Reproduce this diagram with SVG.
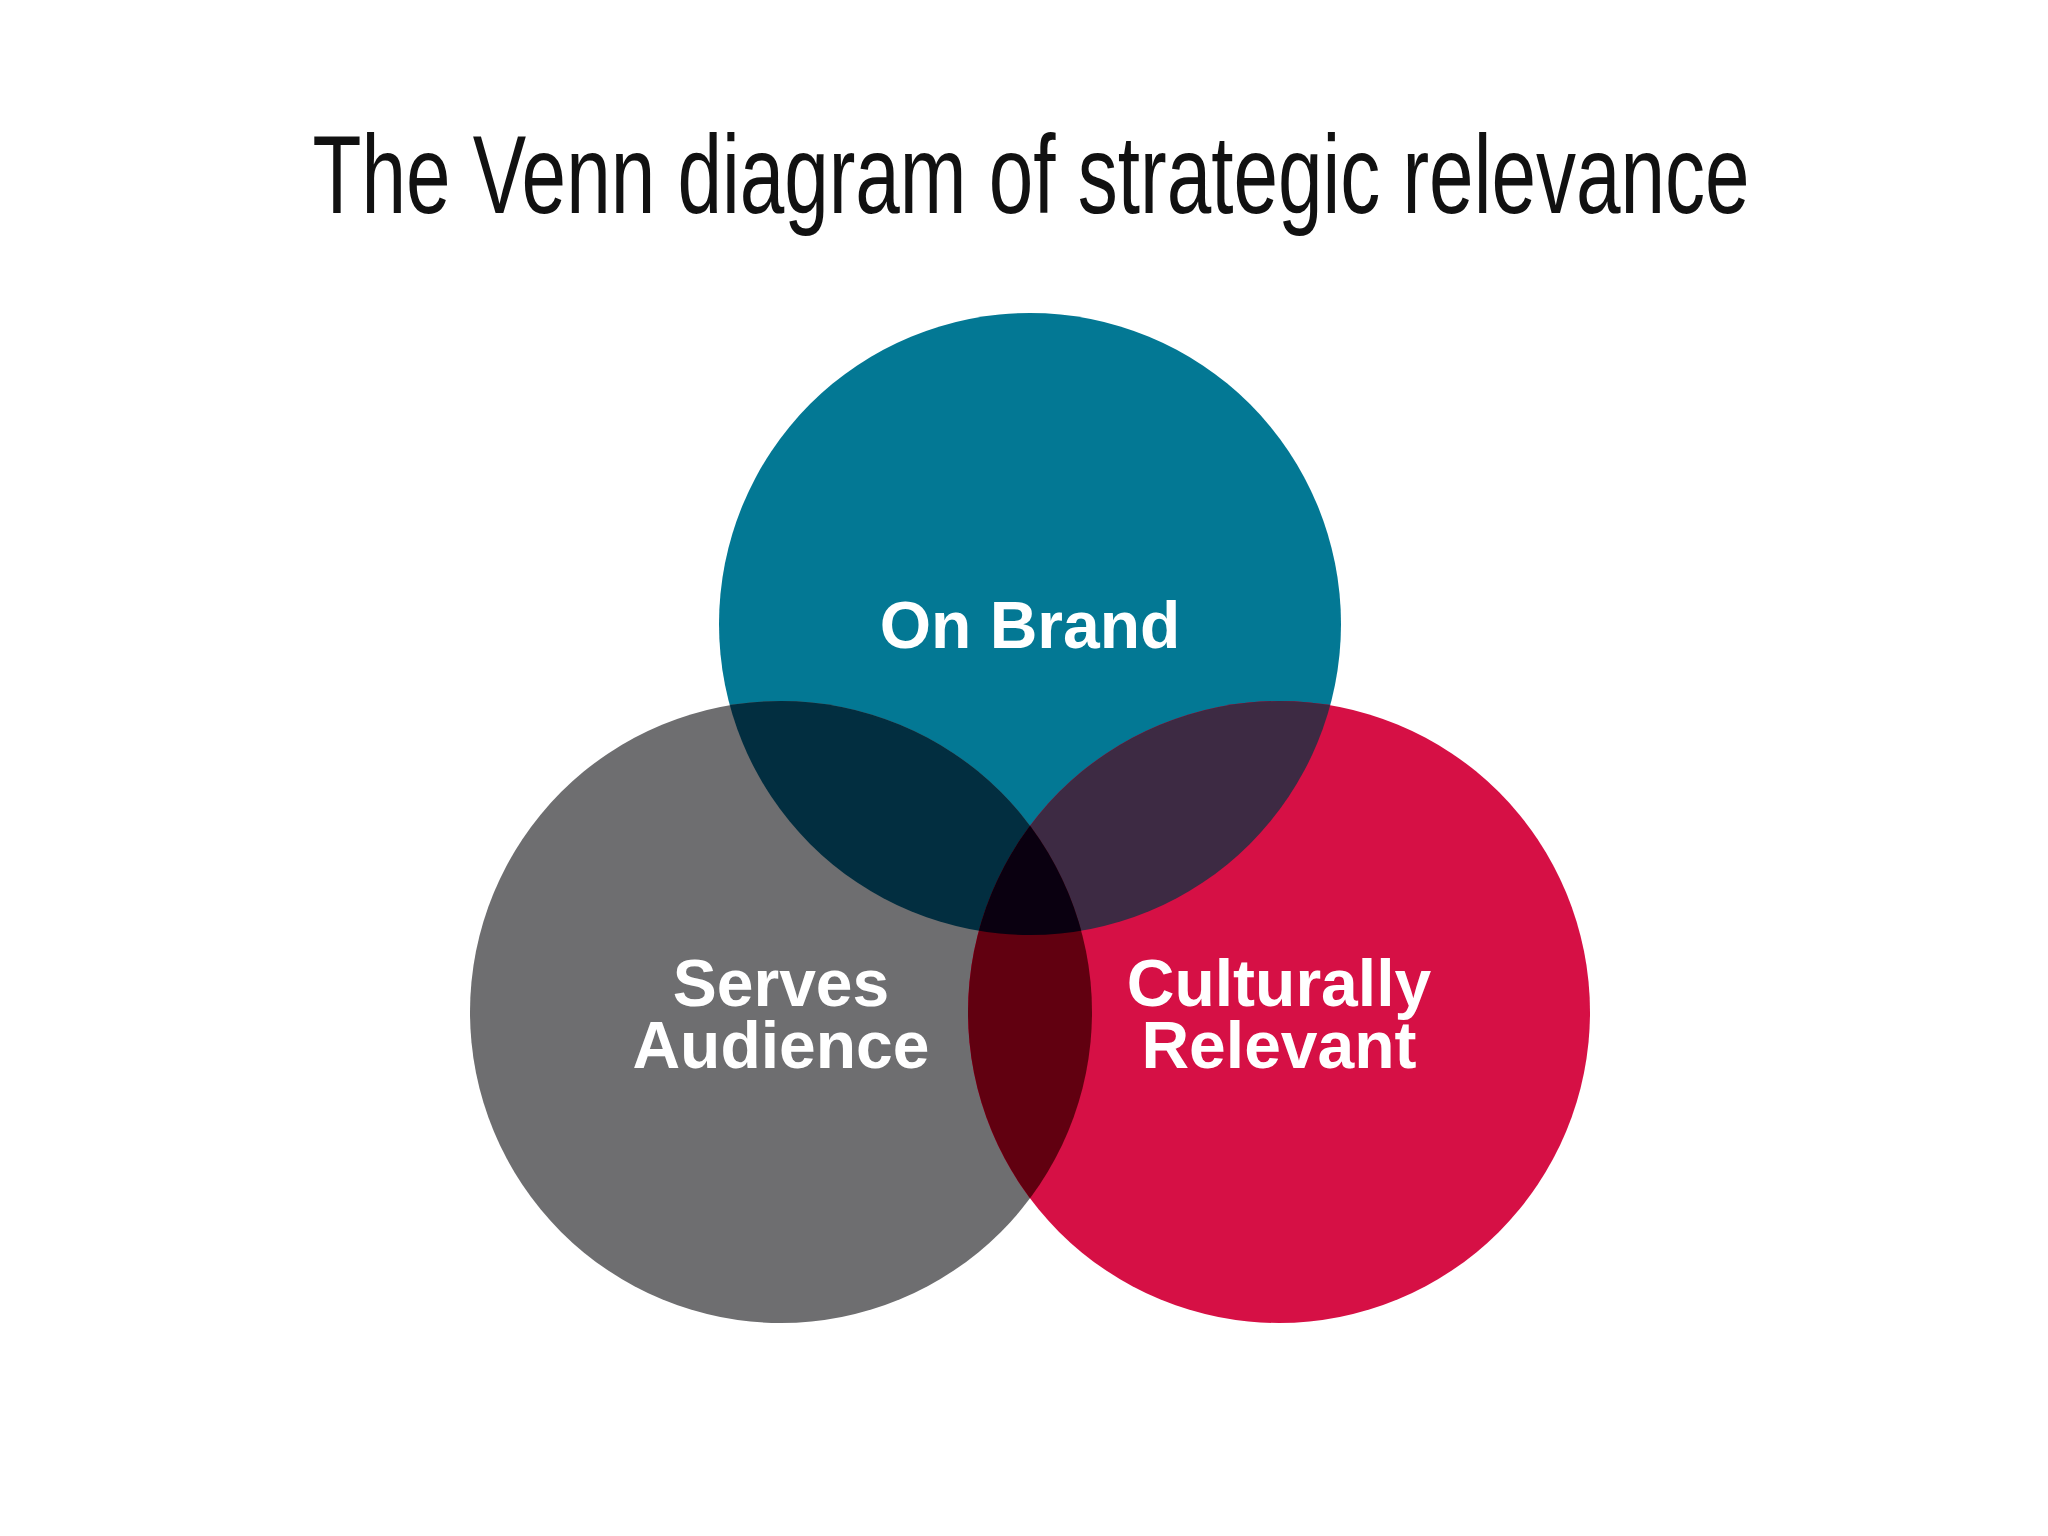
<svg xmlns="http://www.w3.org/2000/svg" width="2048" height="1536" viewBox="0 0 2048 1536">
<defs>
<style>
.lbl{font-family:"Liberation Sans",Arial,sans-serif;font-weight:bold;font-size:66px;fill:#fff;text-anchor:middle}
</style>
<clipPath id="cT"><circle cx="1030" cy="624" r="311"/></clipPath>
<clipPath id="cL"><circle cx="781" cy="1012" r="311"/></clipPath>
<clipPath id="cR"><circle cx="1279" cy="1012" r="311"/></clipPath>
</defs>
<rect width="2048" height="1536" fill="#fff"/>
<text x="1031" y="213" text-anchor="middle" font-family="'Liberation Sans',Arial,sans-serif" font-weight="300" font-size="112" textLength="1437" lengthAdjust="spacingAndGlyphs" fill="#111">The Venn diagram of strategic relevance</text>
<g id="circles">
<circle cx="1030" cy="624" r="311" fill="#037894"/>
<circle cx="781" cy="1012" r="311" fill="#6e6e70"/>
<circle cx="1279" cy="1012" r="311" fill="#d61045"/>
<g clip-path="url(#cT)"><circle cx="781" cy="1012" r="311" fill="#022e40"/><circle cx="1279" cy="1012" r="311" fill="#3d2a43"/></g>
<g clip-path="url(#cL)"><circle cx="1279" cy="1012" r="311" fill="#610010"/></g>
<g clip-path="url(#cT)"><g clip-path="url(#cL)"><circle cx="1279" cy="1012" r="311" fill="#0a0010"/></g></g>
</g>
<g id="top"><text class="lbl" x="1030" y="648">On Brand</text></g>
<g id="left"><text class="lbl" x="781" y="1006">Serves</text><text class="lbl" x="781" y="1068">Audience</text></g>
<g id="right"><text class="lbl" x="1279" y="1006">Culturally</text><text class="lbl" x="1279" y="1068">Relevant</text></g>
<g id="connectors"/>
</svg>
